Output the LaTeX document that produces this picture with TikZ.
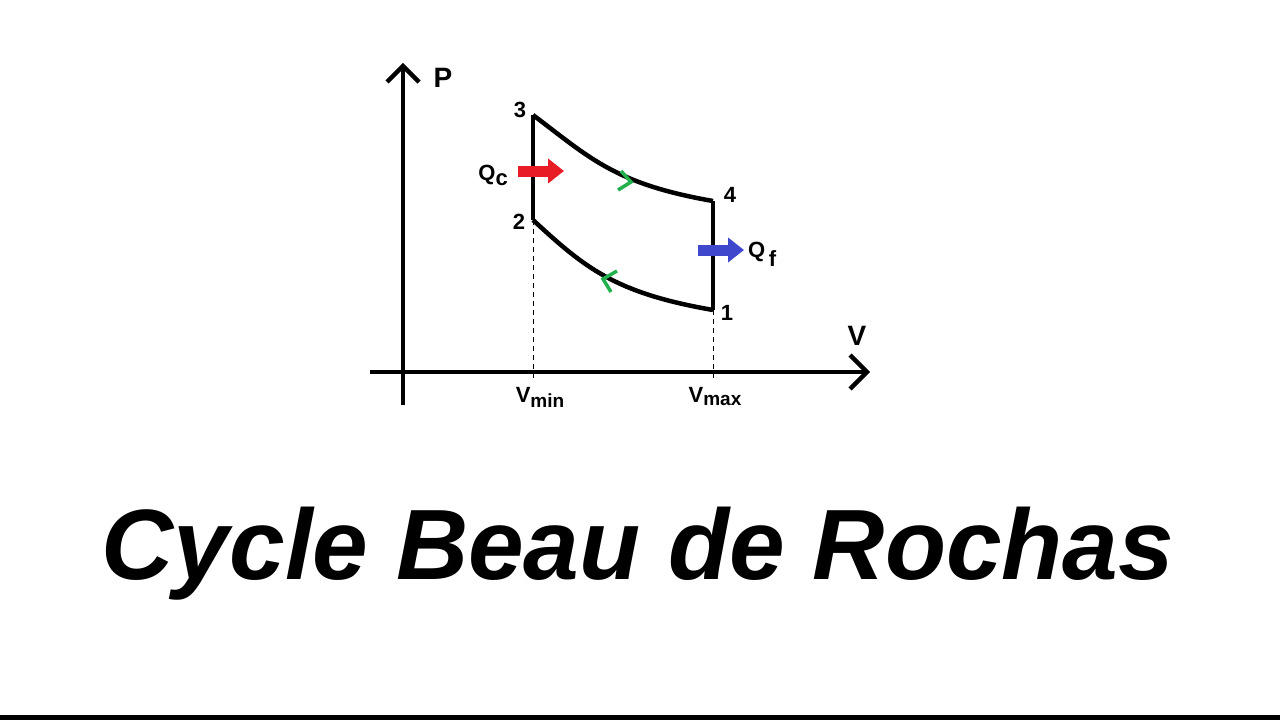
\documentclass[tikz,border=0pt]{standalone}
\usepackage{fontspec}
\setmainfont{Liberation Sans}
\usetikzlibrary{arrows.meta}
\begin{document}
\begin{tikzpicture}[x=1pt,y=-1pt,
  axisline/.style={line width=4.5pt},
  barb/.style={line width=4.5pt,line join=miter,line cap=butt},
  cyc/.style={line width=4.5pt,line join=round},
  lbl/.style={font=\fontsize{22}{24}\selectfont\bfseries,inner sep=0pt},
  big/.style={font=\fontsize{28}{30}\selectfont\bfseries,inner sep=0pt},
  guide/.style={line width=0.9pt,dash pattern=on 5pt off 4pt},
  heat/.style={line width=11pt,-{Triangle[length=16pt,width=24pt]}},
  chev/.style={line width=3.5pt,color={rgb,255:red,34;green,177;blue,76},line join=miter}
]
\useasboundingbox (0,0) rectangle (1280,720);
\fill[white] (0,0) rectangle (1280,720);
\fill[black] (0,715) rectangle (1280,720);
% axes
\coordinate (o1) at (403,405);
\coordinate (ptop) at (403,66);
\coordinate (o2) at (370,372);
\coordinate (vend) at (867,372);
\draw[axisline] (o1) -- (ptop);
\draw[axisline] (o2) -- (vend);
\draw[barb] (387,82) -- (ptop) -- (419,82);
\draw[barb] (850,355) -- (vend) -- (850,389);
\node[big] (P) at (443,78) {P};
\node[big] (V) at (857,336) {V};
% points
\coordinate (p3) at (533,115);
\coordinate (p2) at (533,220);
\coordinate (p4) at (713,201);
\coordinate (p1) at (713,310);
\coordinate (vmin) at (533,380);
\coordinate (vmax) at (713,380);
% dashed guides
\draw[guide] (p2) -- (vmin);
\draw[guide] (p1) -- (vmax);
% cycle
\draw[cyc] (p2) -- (p3);
\draw[cyc] (p3) .. controls (590,158) and (615,184) .. (p4);
\draw[cyc] (p4) -- (p1);
\draw[cyc] (p1) .. controls (615,293) and (585,268) .. (p2);
% green direction chevrons
\draw[chev] (621,171) -- (631,182) -- (618,190);
\draw[chev] (617,271) -- (603,279) -- (611,292);
% heat arrows
\coordinate (qca) at (518,171);
\coordinate (qcb) at (564,171);
\coordinate (qfa) at (698,250);
\coordinate (qfb) at (744,250);
\draw[heat,color={rgb,255:red,232;green,28;blue,36}] (qca) -- (qcb);
\draw[heat,color={rgb,255:red,63;green,72;blue,204}] (qfa) -- (qfb);
% labels
\node[lbl] (l3) at (520,110) {3};
\node[lbl] (l2) at (519,222) {2};
\node[lbl] (l4) at (730,195) {4};
\node[lbl] (l1) at (727,313) {1};
\node[lbl,anchor=base east] (qc) at (508,180) {Q\raisebox{-5pt}{c}};
\node[lbl,anchor=base west] (qf) at (748,257) {Q\,\raisebox{-9pt}{f}};
\node[lbl,anchor=base] (lvmin) at (540,402) {V\raisebox{-5pt}{\fontsize{19}{20}\selectfont min}};
\node[lbl,anchor=base] (lvmax) at (715,402) {V\raisebox{-3pt}{\fontsize{19}{20}\selectfont max}};
% title
\node[inner sep=0pt,anchor=base,font=\fontsize{100}{106}\selectfont\bfseries\itshape] (title) at (638,579) {Cycle Beau de Rochas};
\end{tikzpicture}
\end{document}
